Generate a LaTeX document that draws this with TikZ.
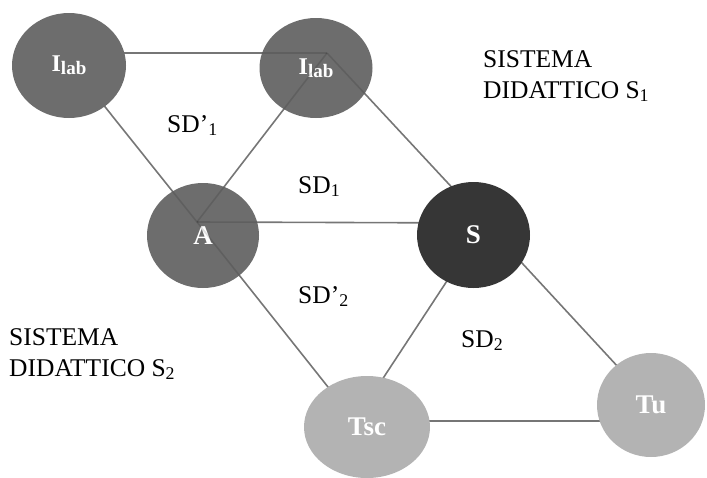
\documentclass[tikz,border=0pt]{standalone}
\usepackage{fontspec}
\setmainfont{Liberation Serif}
\usetikzlibrary{shapes.geometric}
\definecolor{nodeDark}{HTML}{6D6D6D}
\definecolor{nodeBlack}{HTML}{363636}
\definecolor{nodeLight}{HTML}{B3B3B3}
\definecolor{edgeGray}{HTML}{767676}
\begin{document}
\begin{tikzpicture}[x=1pt,y=-1pt,
  blob/.style={ellipse, inner sep=0pt, text=white, font=\bfseries\fontsize{27}{27}\selectfont},
  edge/.style={draw=edgeGray, line width=1.6pt},
  faint/.style={draw=black, opacity=0.12, line width=1.6pt},
  lbl/.style={anchor=base west, inner sep=0pt, font=\fontsize{25.5}{31}\selectfont}]
\useasboundingbox (0,0) rectangle (707,477);
% triangle vertices
\coordinate (vI1) at (62,53);
\coordinate (vI2) at (327,53);
\coordinate (vA) at (197,222);
\coordinate (vS) at (485,223);
\coordinate (vT) at (355,421);
\coordinate (vU) at (668,421);
\newcommand{\alledges}[1]{%
  \draw[#1] (vI1) -- (vI2);
  \draw[#1] (vI1) -- (vA);
  \draw[#1] (vI2) -- (vA);
  \draw[#1] (vI2) -- (vS);
  \draw[#1] (vA) -- (vS);
  \draw[#1] (vA) -- (vT);
  \draw[#1] (vS) -- (vT);
  \draw[#1] (vS) -- (vU);
  \draw[#1] (vT) -- (vU);}
\alledges{edge}
% nodes
\node[blob, fill=nodeDark, minimum width=114pt, minimum height=105pt, font=\bfseries\fontsize{24}{24}\selectfont] (I1) at (69,65.5)
  {I\raisebox{-3pt}{\fontsize{19}{19}\selectfont lab}};
\node[blob, fill=nodeDark, minimum width=113pt, minimum height=100pt, font=\bfseries\fontsize{24}{24}\selectfont] (I2) at (316,68)
  {I\raisebox{-3pt}{\fontsize{19}{19}\selectfont lab}};
\node[blob, fill=nodeDark, minimum width=112pt, minimum height=105pt] (A) at (203,235.5)
  {\raisebox{-1pt}{A}};
\node[blob, fill=nodeBlack, minimum width=113pt, minimum height=106pt] (S) at (473.5,235) {S};
\node[blob, fill=nodeLight, minimum width=126pt, minimum height=102pt] (Tsc) at (367,427) {Tsc};
\node[blob, fill=nodeLight, minimum width=108pt, minimum height=104pt] (Tu) at (651,405) {Tu};
% faint lines visible through A and second Ilab
\begin{scope}
  \clip (A.center) ellipse (56pt and 52.5pt);
  \alledges{faint}
\end{scope}
\begin{scope}
  \clip (I2.center) ellipse (56.5pt and 50pt);
  \alledges{faint}
\end{scope}
% texts
\node[lbl] (t1a) at (483,67) {SISTEMA};
\node[lbl] (t1b) at (483,98) {DIDATTICO S\textsubscript{1}};
\node[lbl] (t2a) at (9,345) {SISTEMA};
\node[lbl] (t2b) at (9,376) {DIDATTICO S\textsubscript{2}};
\node[lbl] (sd1p) at (167,132) {SD’\textsubscript{1}};
\node[lbl] (sd1) at (298,193) {SD\textsubscript{1}};
\node[lbl] (sd2p) at (298,303) {SD’\textsubscript{2}};
\node[lbl] (sd2) at (461,347) {SD\textsubscript{2}};
\end{tikzpicture}
\end{document}
